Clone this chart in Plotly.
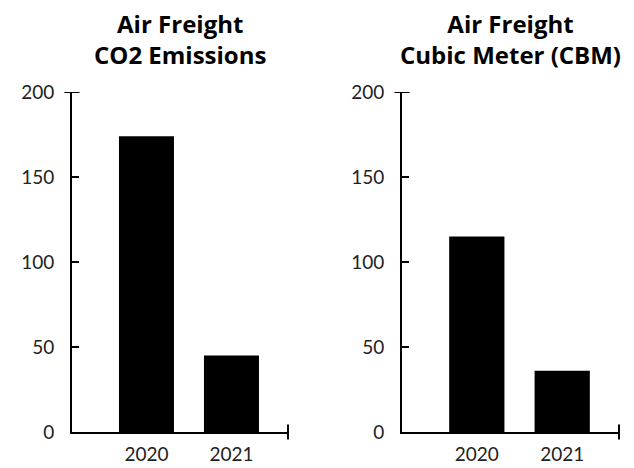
import plotly.graph_objects as go

categories = ["2020", "2021"]
co2_values = [174, 45]
cbm_values = [115, 36]
titles = ["Air Freight<br>CO2 Emissions", "Air Freight<br>Cubic Meter (CBM)"]
y_ticks = [0, 50, 100, 150, 200]

# page body has an 8px margin; lay out in figure coords = screen coords - 8
OFF = 8
W, H = 634 - OFF, 468 - OFF
xdoms = [[(72 - OFF) / W, (288 - OFF) / W], [(402 - OFF) / W, (619 - OFF) / W]]
ydom = [(H - (432 - OFF)) / H, (H - (92 - OFF)) / H]

fig = go.Figure()
tick_font = dict(family="Lato", size=19, color="#222")

for i, vals in enumerate([co2_values, cbm_values]):
    n = "" if i == 0 else str(i + 1)
    fig.add_trace(go.Bar(x=categories, y=vals, marker=dict(color="black", line=dict(width=0)),
                         xaxis="x" + n, yaxis="y" + n, showlegend=False, hoverinfo="skip"))
    fig.update_layout(**{
        "xaxis" + n: dict(domain=xdoms[i], anchor="y" + n, type="category",
                          range=[-0.876, 1.665], showline=True, linecolor="black", linewidth=2,
                          ticks="", showgrid=False, zeroline=False, tickfont=tick_font,
                          ticklabelstandoff=4, automargin=False),
        "yaxis" + n: dict(domain=ydom, anchor="x" + n, range=[0, 200], tickvals=y_ticks,
                          showline=True, linecolor="black", linewidth=2, ticks="inside",
                          ticklen=7, tickwidth=2, tickcolor="black", showgrid=False,
                          zeroline=False, tickfont=tick_font, ticklabelstandoff=12,
                          automargin=False),
    })
    # axis end caps
    fig.add_shape(type="line", xref="x" + n + " domain", yref="y" + n,
                  x0=-0.035, x1=0.035, y0=200, y1=200, line=dict(color="black", width=2))
    fig.add_shape(type="line", xref="x" + n + " domain", yref="y" + n + " domain",
                  x0=1, x1=1, y0=-0.022, y1=0.022, line=dict(color="black", width=2))
    fig.add_annotation(text="<b>" + titles[i] + "</b>", xref="paper", yref="paper",
                       x=(xdoms[i][0] + xdoms[i][1]) / 2, y=1 + 3 / H, yanchor="top",
                       xanchor="center", showarrow=False,
                       font=dict(family="Open Sans", size=24, color="black", weight=800))

fig.update_layout(width=W, height=H, margin=dict(l=0, r=0, t=0, b=0, autoexpand=False),
                  bargap=0.353, plot_bgcolor="white", paper_bgcolor="white")
fig.write_html("out.html")
